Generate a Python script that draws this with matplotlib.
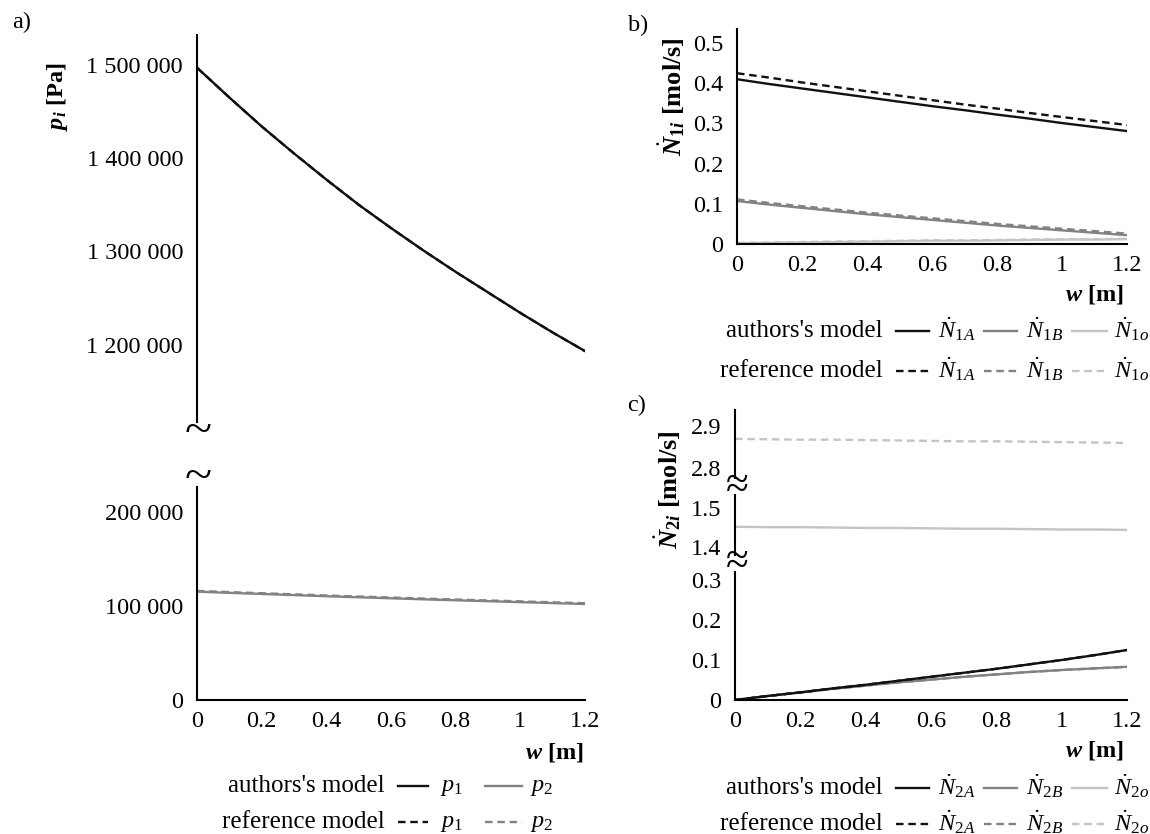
#!/usr/bin/env python3
"""Pressure and molar flux profiles along the membrane width (panels a-c)."""

import matplotlib

matplotlib.use("Agg")
import matplotlib.pyplot as plt
from matplotlib.lines import Line2D

plt.rcParams["font.family"] = ["Liberation Serif", "DejaVu Serif"]
plt.rcParams["mathtext.fontset"] = "custom"
plt.rcParams["mathtext.rm"] = "Liberation Serif"
plt.rcParams["mathtext.it"] = "Liberation Serif:italic"
plt.rcParams["mathtext.bf"] = "Liberation Serif:bold"
plt.rcParams["mathtext.sf"] = "Liberation Serif:bold:italic"

# ---- data -------------------------------------------------------------
w = [0.0, 0.1, 0.2, 0.3, 0.4, 0.5, 0.6, 0.7, 0.8, 0.9, 1.0, 1.1, 1.2]
x_ticks = [0, 0.2, 0.4, 0.6, 0.8, 1.0, 1.2]
x_tick_labels = ["0", "0.2", "0.4", "0.6", "0.8", "1", "1.2"]

# panel a) pressures [Pa]
p1_auth = [1497000, 1465000, 1434000, 1405000, 1377000, 1350000, 1325000,
           1301000, 1278000, 1256000, 1234000, 1213000, 1193000]
p1_ref = p1_auth
p2_auth = [115500, 114200, 113000, 111800, 110600, 109500, 108400,
           107300, 106300, 105300, 104300, 103300, 102300]
p2_ref = [116300, 115000, 113800, 112600, 111400, 110300, 109200,
          108100, 107100, 106100, 105100, 104100, 103100]
a_upper_ticks = [1200000, 1300000, 1400000, 1500000]
a_upper_labels = ["1 200 000", "1 300 000", "1 400 000", "1 500 000"]
a_lower_ticks = [0, 100000, 200000]
a_lower_labels = ["0", "100 000", "200 000"]

# panel b) retentate side fluxes [mol/s]
n1A_auth = [0.410, 0.398, 0.387, 0.376, 0.365, 0.354, 0.343,
            0.333, 0.322, 0.312, 0.301, 0.291, 0.281]
n1A_ref = [0.425, 0.414, 0.402, 0.391, 0.380, 0.369, 0.358,
           0.347, 0.337, 0.326, 0.316, 0.306, 0.296]
n1B_auth = [0.107, 0.098, 0.090, 0.082, 0.074, 0.067, 0.060,
            0.053, 0.046, 0.040, 0.034, 0.028, 0.022]
n1B_ref = [0.111, 0.102, 0.094, 0.086, 0.078, 0.071, 0.064,
           0.057, 0.050, 0.044, 0.038, 0.032, 0.026]
n1o_auth = [0.002, 0.003, 0.004, 0.005, 0.006, 0.007, 0.008,
            0.008, 0.009, 0.010, 0.011, 0.011, 0.012]
n1o_ref = [0.003, 0.004, 0.005, 0.006, 0.007, 0.008, 0.009,
           0.009, 0.010, 0.011, 0.012, 0.012, 0.013]
b_ticks = [0, 0.1, 0.2, 0.3, 0.4, 0.5]
b_labels = ["0", "0.1", "0.2", "0.3", "0.4", "0.5"]

# panel c) permeate side fluxes [mol/s]
n2A_auth = [0.0, 0.010, 0.019, 0.029, 0.038, 0.048, 0.058,
            0.068, 0.078, 0.089, 0.100, 0.112, 0.125]
n2A_ref = n2A_auth
n2B_auth = [0.0, 0.010, 0.019, 0.028, 0.036, 0.044, 0.051,
            0.058, 0.064, 0.070, 0.075, 0.079, 0.083]
n2B_ref = n2B_auth
n2o_auth = [1.452, 1.451, 1.451, 1.450, 1.449, 1.449, 1.448,
            1.447, 1.447, 1.446, 1.445, 1.445, 1.444]
n2o_ref = [2.870, 2.869, 2.868, 2.868, 2.867, 2.866, 2.865,
           2.864, 2.864, 2.863, 2.862, 2.861, 2.860]
c_top_ticks = [2.8, 2.9]
c_mid_ticks = [1.4, 1.5]
c_low_ticks = [0, 0.1, 0.2, 0.3]
c_low_labels = ["0", "0.1", "0.2", "0.3"]

# ---- style ------------------------------------------------------------
W, H = 1150, 834
BLACK, GRAY, LIGHT = "#111111", "#828282", "#c4c4c4"
LW = 1.7
DASH = (3.2, 2.0)
FS = 17.5

fig = plt.figure(figsize=(W / 100, H / 100), dpi=100)


def px_axes(left, top, right, bottom):
    return fig.add_axes([left / W, 1 - bottom / H, (right - left) / W, (bottom - top) / H])


def style(ax, bottom=False):
    for side in ("top", "right"):
        ax.spines[side].set_visible(False)
    ax.spines["left"].set_linewidth(1.5)
    ax.spines["bottom"].set_linewidth(1.5)
    ax.spines["bottom"].set_visible(bottom)
    ax.tick_params(length=0, labelsize=FS, pad=10)
    ax.set_xlim(0, 1.2)
    ax.patch.set_alpha(0)
    if bottom:
        ax.set_xticks(x_ticks)
        ax.set_xticklabels(x_tick_labels)
        ax.tick_params(axis="x", pad=8)
    else:
        ax.set_xticks([])


def ftext(x, y, s, **kw):
    kw.setdefault("fontsize", FS)
    fig.text(x / W, 1 - y / H, s, **kw)


def fline(x1, x2, y, color, dashed):
    ln = Line2D([x1 / W, x2 / W], [1 - y / H, 1 - y / H], transform=fig.transFigure,
                color=color, lw=LW)
    if dashed:
        ln.set_dashes(DASH)
    fig.add_artist(ln)


def plot_pair(ax, auth, ref, color):
    ax.plot(w, ref, color=color, lw=LW, dashes=DASH)
    ax.plot(w, auth, color=color, lw=LW)


# ---- panel a ----------------------------------------------------------
ax_au = px_axes(197, 35, 585, 422)
style(ax_au)
ax_au.set_ylim(1117000, 1532000)
ax_au.set_yticks(a_upper_ticks)
ax_au.set_yticklabels(a_upper_labels)
plot_pair(ax_au, p1_auth, p1_ref, BLACK)

ax_al = px_axes(197, 487, 585, 700)
style(ax_al, bottom=True)
ax_al.set_ylim(0, 227000)
ax_al.set_yticks(a_lower_ticks)
ax_al.set_yticklabels(a_lower_labels)
plot_pair(ax_al, p2_auth, p2_ref, GRAY)

ftext(198, 432, "~", fontsize=36, ha="center", va="center")
ftext(198, 478, "~", fontsize=36, ha="center", va="center")

# ---- panel b ----------------------------------------------------------
ax_b = px_axes(737, 29, 1127, 244)
style(ax_b, bottom=True)
ax_b.set_ylim(0, 0.535)
ax_b.set_yticks(b_ticks)
ax_b.set_yticklabels(b_labels)
plot_pair(ax_b, n1o_auth, n1o_ref, LIGHT)
plot_pair(ax_b, n1B_auth, n1B_ref, GRAY)
plot_pair(ax_b, n1A_auth, n1A_ref, BLACK)

# ---- panel c ----------------------------------------------------------
ax_ct = px_axes(735, 410, 1127, 478)
style(ax_ct)
ax_ct.set_ylim(2.775, 2.94)
ax_ct.set_yticks(c_top_ticks)
ax_ct.set_yticklabels(["2.8", "2.9"])
ax_ct.plot(w, n2o_ref, color=LIGHT, lw=LW, dashes=DASH)

ax_cm = px_axes(735, 495, 1127, 555)
style(ax_cm)
ax_cm.set_ylim(1.38, 1.533)
ax_cm.set_yticks(c_mid_ticks)
ax_cm.set_yticklabels(["1.4", "1.5"])
ax_cm.plot(w, n2o_auth, color=LIGHT, lw=LW)

ax_cl = px_axes(735, 572, 1127, 700)
style(ax_cl, bottom=True)
ax_cl.set_ylim(0, 0.32)
ax_cl.set_yticks(c_low_ticks)
ax_cl.set_yticklabels(c_low_labels)
plot_pair(ax_cl, n2B_auth, n2B_ref, GRAY)
plot_pair(ax_cl, n2A_auth, n2A_ref, BLACK)

ftext(737, 487, "≈", fontsize=30, ha="center", va="center")
ftext(737, 563, "≈", fontsize=30, ha="center", va="center")

# ---- labels -----------------------------------------------------------
ftext(22, 22, "a)", ha="center", va="center")
ftext(638, 25, "b)", ha="center", va="center")
ftext(637, 405, "c)", ha="center", va="center")

ftext(58, 97, r"$\mathsf{p}_{\mathsf{i}}$ [Pa]", rotation=90, ha="center", va="center",
      fontweight="bold")
ftext(672, 97, r"$\dot{\mathsf{N}}_{\mathbf{1}\mathsf{i}}$ [mol/s]", rotation=90,
      ha="center", va="center", fontweight="bold", fontsize=19)
ftext(668, 490, r"$\dot{\mathsf{N}}_{\mathbf{2}\mathsf{i}}$ [mol/s]", rotation=90,
      ha="center", va="center", fontweight="bold", fontsize=19)

ftext(584, 752, r"$\mathsf{w}$ [m]", ha="right", va="center", fontweight="bold")
ftext(1124, 295, r"$\mathsf{w}$ [m]", ha="right", va="center", fontweight="bold")
ftext(1124, 750, r"$\mathsf{w}$ [m]", ha="right", va="center", fontweight="bold")

# ---- legends ----------------------------------------------------------
rows_a = [(786, False, "authors's model"), (822, True, "reference model")]
for y, dashed, name in rows_a:
    ftext(385, y, name, ha="right", va="center", fontsize=18)
    fline(398, 428, y, BLACK, dashed)
    ftext(440, y + 2, r"$p_{1}$", ha="left", va="center")
    fline(485, 522, y, GRAY, dashed)
    ftext(530, y + 2, r"$p_{2}$", ha="left", va="center")

for rows, idx in (([(331, False, "authors's model"), (371, True, "reference model")], "1"),
                  ([(788, False, "authors's model"), (824, True, "reference model")], "2")):
    for y, dashed, name in rows:
        ftext(883, y, name, ha="right", va="center", fontsize=18)
        for (x1, x2, xl), col, sub in (((896, 929, 938), BLACK, "A"),
                                        ((984, 1017, 1026), GRAY, "B"),
                                        ((1072, 1107, 1114), LIGHT, "o")):
            fline(x1, x2, y, col, dashed)
            ftext(xl, y - 2, r"$\dot{N}_{%s%s}$" % (idx, sub), ha="left", va="center")

fig.savefig("out.png", dpi=100)
